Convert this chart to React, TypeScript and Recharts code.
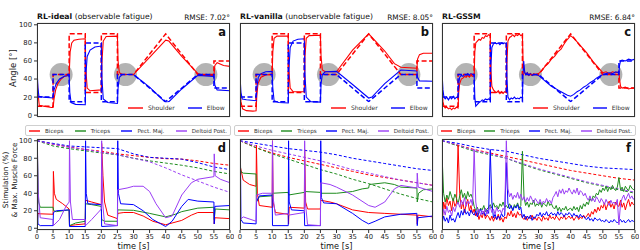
import React from 'react';
import { LineChart, Line, XAxis, YAxis, CartesianGrid, ReferenceDot } from 'recharts';

type Pt = [number, number];
type Row = { t: number; v: number };

// ---- axes ----
const timeTicks = [0, 5, 10, 15, 20, 25, 30, 35, 40, 45, 50, 55, 60];
const valueTicks = [0, 20, 40, 60, 80, 100];
const circleTimes = [7.5, 27.5, 52.5];
const circleAngle = 45;

// ---- joint angles (deg) ----
const shoulderRefAB: Pt[] = [[0, 10], [5, 10], [5, 45], [10, 45], [10, 90], [15, 90], [15, 25], [20, 25], [20, 90], [25, 90], [25, 45], [30, 45], [40, 90], [50, 45], [55, 45], [55, 60], [60, 60]];
const elbowRefAB: Pt[] = [[0, 20], [5, 20], [5, 45], [10, 45], [10, 15], [15, 15], [15, 80], [20, 80], [20, 15], [25, 15], [25, 45], [30, 45], [40, 15], [50, 45], [55, 45], [55, 30], [60, 30]];
const shoulderRefC: Pt[] = [[0, 10], [5, 10], [5, 45], [10, 45], [10, 90], [15, 90], [15, 25], [20, 25], [20, 90], [25, 90], [25, 45], [30, 45], [40, 90], [50, 45], [55, 45], [55, 30], [60, 30]];
const elbowRefC: Pt[] = [[0, 20], [5, 20], [5, 45], [10, 45], [10, 15], [15, 15], [15, 80], [20, 80], [20, 15], [25, 15], [25, 45], [30, 45], [40, 15], [50, 45], [55, 45], [55, 60], [60, 60]];

const shoulderA: Pt[] = [[0, 47], [0.3, 25], [0.7, 11], [2, 10], [4.5, 8.5], [5, 8.5], [5.3, 18], [5.8, 28], [6.5, 35], [7.5, 40], [8.5, 43], [10, 44.5], [10.3, 70], [10.8, 80], [11.5, 83], [13, 84], [15, 84.5], [15.2, 50], [15.6, 30], [16.5, 27], [20, 28], [20.2, 60], [20.6, 82], [21.5, 87], [25, 87.5], [25.2, 60], [25.6, 47], [26.5, 45], [30, 45], [35, 64], [40, 83], [41, 82], [45, 65], [50, 46], [52, 44], [55, 44], [55.3, 55], [56, 58], [58, 55], [60, 54]];
const elbowA: Pt[] = [[0, 52], [0.3, 30], [0.6, 21], [2, 20], [5, 19], [5.3, 28], [6, 35], [7, 40], [8.5, 43], [10, 44], [10.2, 25], [10.6, 14], [12, 12], [15, 11.5], [15.2, 45], [15.6, 65], [16.5, 72], [18, 75.5], [20, 76.5], [20.2, 40], [20.6, 18], [22, 14], [25, 13], [25.2, 30], [25.6, 42], [26.5, 45], [30, 45], [35, 31], [40, 14], [41, 15], [45, 29], [50, 44], [55, 43], [55.3, 33], [56, 28], [60, 27]];

const shoulderB: Pt[] = [[0, 40], [0.3, 15], [0.8, 7], [2, 5], [4, 4.5], [5, 5], [5.2, 20], [5.6, 35], [6.5, 42], [8, 44.5], [10, 45], [10.2, 70], [10.6, 85], [11.5, 87.5], [15, 87.5], [15.2, 50], [15.6, 30], [16.5, 26], [20, 26], [20.2, 65], [20.6, 85], [21.5, 88], [25, 88.5], [25.2, 65], [25.6, 50], [26.5, 48], [30, 48], [35, 72], [40, 90], [45, 71], [48, 57], [50, 53], [55, 52], [55.2, 62], [55.8, 67], [57, 68.5], [60, 68.5]];
const elbowB: Pt[] = [[0, 44], [0.3, 25], [0.7, 18], [2, 17], [5, 16], [5.2, 30], [5.7, 42], [6.5, 46], [8, 48], [10, 48.5], [10.2, 30], [10.6, 16], [12, 14], [15, 13.5], [15.2, 50], [15.6, 75], [16.5, 82], [18, 84], [20, 84.5], [20.2, 45], [20.6, 20], [22, 15], [25, 14.5], [25.2, 35], [25.6, 45], [26.5, 48], [30, 48.5], [35, 34], [40, 19], [41, 20], [45, 35], [50, 50], [55, 49], [55.2, 42], [55.8, 38], [60, 37.5]];

const shoulderC: Pt[] = [[0, 35], [0.3, 15], [0.6, 10], [1, 8], [1.5, 9], [2, 7], [2.5, 8], [3, 6], [3.5, 8], [4, 7], [4.5, 9], [5, 8], [5.2, 25], [5.5, 35], [6, 40], [6.5, 41], [7, 43], [7.5, 42], [8, 44], [8.5, 42], [9, 44], [9.5, 43], [10, 44], [10.2, 70], [10.5, 80], [11, 82], [11.5, 84], [12, 83], [12.5, 86], [13, 85], [13.5, 88], [14, 87], [14.5, 89], [15, 88], [15.2, 50], [15.5, 32], [16, 28], [16.5, 26], [17, 25], [17.5, 27], [18, 24], [18.5, 26], [19, 24], [19.5, 26], [20, 25], [20.2, 60], [20.5, 82], [21, 86], [21.5, 87], [22, 89], [22.5, 87], [23, 89], [23.5, 88], [24, 90], [24.5, 88], [25, 89], [25.2, 60], [25.5, 48], [26, 45], [26.5, 47], [27, 44], [27.5, 46], [28, 44], [28.5, 46], [29, 45], [30, 46], [31, 49], [32, 54], [33, 57], [34, 62], [35, 65], [36, 70], [37, 73], [38, 79], [39, 84], [40, 88], [41, 85], [42, 81], [43, 77], [44, 73], [45, 69], [46, 64], [47, 59], [48, 55], [49, 51], [50, 47], [51, 48], [52, 46], [53, 48], [54, 47], [55, 48], [55.2, 40], [55.5, 32], [56, 30], [57, 31], [58, 29], [59, 30], [60, 30]];
const elbowC: Pt[] = [[0, 48], [0.3, 28], [0.6, 20], [1, 18], [1.5, 20], [2, 17], [2.5, 20], [3, 18], [3.5, 21], [4, 18], [4.5, 20], [5, 19], [5.2, 35], [5.5, 42], [6, 44], [6.5, 43], [7, 45], [7.5, 44], [8, 46], [8.5, 44], [9, 46], [9.5, 45], [10, 45], [10.2, 20], [10.5, 10], [11, 12], [11.5, 14], [12, 15], [12.5, 17], [13, 16], [13.5, 18], [14, 17], [14.5, 18], [15, 17], [15.2, 55], [15.5, 75], [16, 79], [16.5, 80], [17, 79], [17.5, 80], [18, 78], [18.5, 80], [19, 79], [19.5, 80], [20, 79], [20.2, 40], [20.5, 20], [21, 17], [21.5, 19], [22, 18], [22.5, 20], [23, 18], [23.5, 19], [24, 18], [24.5, 20], [25, 19], [25.2, 45], [25.4, 60], [25.7, 48], [26, 45], [26.5, 47], [27, 44], [27.5, 46], [28, 44], [29, 45], [30, 44], [31, 41], [32, 38], [33, 35], [34, 32], [35, 30], [36, 28], [37, 26], [38, 24], [39, 22], [40, 21], [41, 23], [42, 26], [43, 28], [44, 31], [45, 33], [46, 36], [47, 38], [48, 41], [49, 43], [50, 45], [51, 46], [52, 47], [53, 46], [54, 48], [55, 47], [55.2, 55], [55.5, 60], [56, 61], [57, 60], [58, 62], [59, 61], [60, 62]];

// ---- muscle max force (%) ----
const bicepsForceD: Pt[] = [[0, 100], [5, 96], [10, 93], [15, 90], [20, 88], [25, 85], [30, 83], [35, 81], [40, 79.5], [45, 79], [50, 77], [55, 74], [60, 72]];
const tricepsForceD: Pt[] = [[0, 100], [5, 94], [10, 91], [15, 88.5], [20, 86], [25, 84], [30, 80], [35, 77], [40, 74.5], [45, 72], [50, 69], [55, 65], [60, 62]];
const pectForceD: Pt[] = [[0, 100], [5, 97], [10, 94], [15, 93], [20, 92], [25, 91], [30, 85], [35, 81], [40, 80], [45, 79], [50, 75], [55, 70], [60, 67]];
const deltForceD: Pt[] = [[0, 100], [5, 96], [10, 92.5], [15, 90], [20, 87], [25, 84], [30, 80], [35, 76], [40, 69], [45, 61], [50, 54], [55, 47], [60, 41]];

const bicepsForceE: Pt[] = [[0, 100], [5, 92], [10, 86], [15, 81], [20, 77], [25, 73], [30, 69], [35, 65], [40, 61], [45, 58], [50, 55], [55, 52], [60, 49]];
const tricepsForceE: Pt[] = [[0, 100], [5, 92], [10, 85], [15, 79], [20, 73], [25, 67], [30, 62], [35, 56], [40, 51], [45, 45], [50, 39], [55, 34], [60, 30]];
const pectForceE: Pt[] = [[0, 100], [5, 97], [10, 94], [15, 91], [20, 89], [25, 87], [30, 84], [35, 80], [40, 77], [45, 74], [50, 71], [55, 68], [60, 66]];
const deltForceE: Pt[] = [[0, 100], [5, 94], [10, 89], [15, 85], [20, 81], [25, 77], [30, 72], [35, 67], [40, 63], [45, 59], [50, 55], [55, 52], [60, 49]];

const bicepsForceF: Pt[] = [[0, 100], [5, 95], [10, 90], [15, 86], [20, 82], [25, 78], [30, 74], [35, 70], [40, 66], [45, 63], [50, 60], [55, 57], [60, 55]];
const tricepsForceF: Pt[] = [[0, 100], [5, 94], [10, 88], [15, 84], [20, 80], [25, 73], [30, 67], [35, 62], [40, 57], [45, 52], [50, 48], [55, 44], [60, 40]];
const pectForceF: Pt[] = [[0, 100], [5, 97], [10, 93], [15, 90], [20, 88], [25, 84], [30, 80], [35, 77], [40, 74], [45, 71], [50, 69], [55, 68], [60, 67]];
const deltForceF: Pt[] = [[0, 100], [5, 95], [10, 89], [15, 85], [20, 80], [25, 74], [30, 68], [35, 63], [40, 58], [45, 53], [50, 49], [55, 45], [60, 41]];

// ---- muscle stimulation (%) ----
const bicepsStimD: Pt[] = [[0, 2], [0.3, 17], [1, 16.5], [5, 16], [5.1, 65], [5.4, 40], [6, 33], [8, 28], [10, 22], [10.1, 3], [12, 4], [15, 5], [15.1, 32], [17, 30], [20, 27], [20.1, 97], [20.5, 60], [21, 30], [22, 15], [25, 11], [25.1, 17], [27, 18], [30, 18], [33, 14], [36, 8], [40, 4], [42, 6], [45, 9], [48, 15], [50, 18], [55, 18], [55.1, 5], [55.3, 12], [60, 11]];
const tricepsStimD: Pt[] = [[0, 0], [0.15, 85], [0.5, 30], [1, 24], [5, 24], [5.2, 20], [6, 19], [10, 21], [10.1, 3], [12, 6], [15, 8], [15.1, 28], [17, 27], [20, 25], [20.1, 10], [21, 8], [25, 8], [25.1, 21], [30, 20.5], [35, 17], [40, 13], [43, 16], [45, 19], [50, 23], [55, 24], [55.1, 10], [55.4, 22], [60, 21]];
const pectStimD: Pt[] = [[0, 0], [0.1, 50], [0.3, 5], [1, 3], [5, 3], [5.1, 18], [6, 20], [10, 21], [10.1, 2], [15, 2], [15.1, 100], [15.3, 40], [15.8, 28], [20, 27], [20.1, 2], [25, 3], [25.1, 100], [25.3, 40], [26, 28], [30, 27], [33, 20], [36, 10], [40, 2], [42, 8], [45, 25], [47, 33], [50, 31], [55, 30], [55.1, 5], [55.3, 25], [60, 26]];
const deltStimD: Pt[] = [[0, 0], [0.1, 100], [0.4, 40], [1, 12], [5, 10], [5.1, 3], [7, 10], [9, 25], [10, 30], [10.1, 100], [10.4, 30], [11, 10], [15, 10], [15.1, 3], [17, 10], [20, 22], [20.1, 100], [20.4, 30], [21, 5], [25, 3], [25.1, 44], [28, 46], [30, 48], [33, 48], [35, 42], [37, 28], [40, 12], [42, 14], [45, 38], [48, 52], [50, 56], [55, 59], [55.1, 85], [55.4, 60], [57, 56], [60, 52]];

const bicepsStimE: Pt[] = [[0, 72], [1, 55], [3, 50], [5, 48], [5.1, 95], [5.4, 40], [6, 26], [10, 24], [10.1, 100], [10.3, 30], [11, 18], [15, 16], [15.1, 5], [15.3, 24], [20, 23], [20.1, 90], [20.4, 30], [21, 22], [25, 22], [25.1, 32], [28, 30], [30, 28], [35, 21], [40, 18], [45, 17], [50, 16], [55, 15], [55.1, 5], [55.3, 15], [60, 13]];
const tricepsStimE: Pt[] = [[0, 100], [0.2, 65], [1, 63], [5, 62], [5.1, 30], [6, 36], [10, 37], [10.1, 40], [15, 41], [15.1, 38], [20, 41], [20.1, 42], [25, 41], [25.1, 40], [30, 40], [35, 42], [38, 45], [40, 46], [40.2, 50], [45, 52], [48, 50], [50, 47], [55, 46], [55.1, 30], [55.5, 40], [57, 44], [60, 45]];
const pectStimE: Pt[] = [[0, 0], [0.1, 100], [0.3, 10], [1, 6], [5, 5], [5.1, 30], [6, 37], [10, 38], [10.1, 3], [15, 3], [15.1, 100], [15.3, 30], [16, 21], [20, 20], [20.1, 3], [25, 3], [25.1, 100], [25.3, 35], [26, 29], [30, 28], [35, 17], [38, 9], [40, 5], [42, 8], [45, 13], [50, 16], [55, 17], [55.1, 3], [55.3, 12], [60, 14]];
const deltStimE: Pt[] = [[0, 0], [0.1, 10], [1, 13], [5, 8], [5.1, 38], [7, 40], [10, 40], [10.1, 100], [10.3, 35], [11, 15], [15, 17], [15.1, 15], [20, 18], [20.1, 100], [20.3, 30], [21, 4], [25, 3], [25.1, 52], [28, 50], [30, 47], [35, 38], [40, 26], [42, 24], [45, 30], [48, 45], [50, 49], [55, 46], [55.1, 63], [55.4, 47], [60, 42]];

// panel f is sampled every 0.5 s
const bicepsStimF = [2, 30, 22, 35, 26, 31, 20, 34, 25, 29, 95, 40, 22, 30, 18, 27, 33, 20, 26, 17, 22, 14, 18, 10, 16, 12, 19, 11, 15, 13, 9, 14, 8, 13, 10, 16, 9, 12, 7, 13, 11, 18, 14, 20, 13, 17, 12, 19, 15, 16, 12, 10, 14, 9, 13, 11, 15, 10, 12, 9, 13, 11, 8, 14, 10, 12, 9, 15, 11, 13, 10, 14, 12, 9, 13, 11, 15, 10, 12, 14, 11, 13, 9, 12, 14, 10, 13, 11, 15, 12, 14, 17, 13, 19, 16, 22, 18, 24, 20, 26, 23, 29, 21, 27, 31, 24, 28, 22, 30, 26, 25, 32, 24, 29, 21, 28, 33, 25, 30, 27, 28];
const tricepsStimF = [85, 40, 30, 38, 33, 42, 36, 31, 39, 34, 28, 37, 44, 35, 40, 33, 42, 36, 39, 34, 25, 20, 24, 18, 23, 21, 26, 19, 22, 24, 27, 23, 29, 24, 26, 22, 28, 25, 30, 24, 26, 23, 28, 25, 21, 27, 24, 29, 23, 26, 88, 35, 26, 30, 24, 29, 27, 32, 25, 28, 26, 30, 24, 29, 27, 25, 31, 26, 28, 24, 22, 26, 20, 24, 19, 23, 21, 25, 20, 22, 23, 20, 25, 21, 24, 19, 26, 22, 28, 25, 30, 27, 34, 31, 37, 35, 40, 38, 44, 41, 46, 43, 48, 42, 47, 44, 49, 45, 43, 47, 58, 44, 47, 42, 48, 45, 43, 49, 46, 44, 46];
const pectStimF = [5, 14, 8, 12, 6, 15, 9, 11, 7, 13, 18, 12, 20, 15, 22, 16, 19, 14, 21, 17, 15, 20, 13, 18, 22, 16, 19, 14, 21, 17, 90, 30, 12, 16, 10, 14, 11, 17, 13, 15, 75, 28, 22, 26, 20, 25, 23, 27, 21, 24, 12, 16, 10, 14, 11, 15, 9, 13, 12, 16, 14, 18, 13, 17, 15, 19, 14, 16, 18, 15, 17, 14, 19, 15, 18, 16, 13, 17, 15, 18, 16, 13, 17, 14, 15, 12, 16, 13, 14, 11, 10, 13, 9, 11, 8, 12, 10, 9, 11, 8, 9, 7, 10, 8, 6, 9, 7, 10, 8, 6, 8, 10, 7, 9, 6, 8, 10, 7, 9, 8, 7];
const deltStimF = [10, 22, 15, 25, 18, 21, 14, 24, 19, 26, 30, 24, 32, 27, 35, 25, 31, 28, 33, 26, 90, 30, 18, 22, 15, 20, 17, 23, 16, 21, 25, 18, 22, 16, 24, 19, 21, 17, 23, 20, 100, 45, 36, 40, 33, 38, 35, 41, 34, 39, 32, 36, 30, 35, 31, 37, 33, 29, 34, 31, 28, 33, 27, 31, 29, 34, 30, 32, 28, 35, 38, 42, 36, 44, 40, 45, 39, 43, 41, 46, 42, 39, 44, 40, 46, 38, 43, 41, 37, 40, 35, 32, 37, 31, 34, 30, 36, 33, 29, 34, 31, 27, 33, 29, 26, 32, 28, 30, 27, 33, 4, 28, 34, 38, 32, 36, 40, 34, 37, 33, 36];

// ---- styles ----
const RED = '#ff0000';
const GREEN = '#1e8c1e';
const BLUE = '#0000ff';
const PURPLE = '#9a3df5';
const FONT = '"DejaVu Sans", sans-serif';

const rows = (pts: Pt[]): Row[] => pts.map(([t, v]) => ({ t, v }));
const sampled = (vals: number[]): Row[] => vals.map((v, i) => ({ t: i * 0.5, v }));

type Series = { data: Row[]; color: string; dashed?: boolean };

const COLS = [37, 240, 442];
const PW = 193;
const Y_AXIS_W = 30;

function Panel({ col, top, h, series, yLabels, xLabels, circles }: {
  col: number; top: number; h: number; series: Series[]; yLabels: boolean; xLabels: boolean; circles?: boolean;
}) {
  const xh = xLabels ? 14 : 4;
  const tickStyle = { fontSize: 6.8, fill: '#222', fontFamily: FONT };
  const bottomRow = xLabels;
  const w = Y_AXIS_W + PW + 4;
  const ht = 4 + h + xh;
  const margin = { top: 4, right: 4, bottom: 0, left: 0 };
  const axes = (show: boolean) => [
    <XAxis key="x" type="number" dataKey="t" domain={[0, 60]} ticks={timeTicks} height={xh} interval={0}
      axisLine={false} tickSize={3} tickLine={show ? { stroke: '#333' } : false} tickMargin={1}
      tick={show && xLabels ? tickStyle : false} allowDataOverflow />,
    <YAxis key="y" type="number" domain={[-2, 102]} ticks={valueTicks} width={Y_AXIS_W} interval={0}
      axisLine={false} tickSize={3} tickLine={show ? { stroke: '#333' } : false} tickMargin={2}
      tick={show && yLabels ? tickStyle : false} allowDataOverflow />,
  ];
  return (
    <div style={{ position: 'absolute', left: col - Y_AXIS_W, top: top - 4, width: w, height: ht }}>
      {/* grid and highlight circles sit underneath the lines */}
      <div style={{ position: 'absolute', left: 0, top: 0 }}>
        <LineChart width={w} height={ht} margin={margin} data={[{ t: 0, v: 0 }]}>
          <CartesianGrid stroke="#d6d6d6" strokeWidth={0.8} />
          {axes(false)}
          {circles && circleTimes.map((t) => (
            <ReferenceDot key={t} x={t} y={circleAngle} r={11.5} fill="#a6a6a6" fillOpacity={0.85} stroke="none" />
          ))}
        </LineChart>
      </div>
      <div style={{ position: 'absolute', left: 0, top: 0 }}>
        <LineChart width={w} height={ht} margin={margin}>
          {axes(true)}
          {series.map((s, i) => (
            <Line key={i} data={s.data} dataKey="v" type="linear" stroke={s.color}
              strokeWidth={bottomRow ? 1 : (s.dashed ? 1.5 : 1.1)}
              strokeDasharray={s.dashed ? (bottomRow ? '3 2' : '5 2.5') : undefined}
              dot={false} activeDot={false} isAnimationActive={false} />
          ))}
        </LineChart>
      </div>
      <div style={{ position: 'absolute', left: Y_AXIS_W, top: 4, width: PW, height: h, border: '1px solid #333', boxSizing: 'border-box', pointerEvents: 'none' }} />
    </div>
  );
}

function angleSeries(sRef: Pt[], eRef: Pt[], s: Pt[], e: Pt[]): Series[] {
  return [
    { data: rows(s), color: RED },
    { data: rows(e), color: BLUE },
    { data: rows(sRef), color: RED, dashed: true },
    { data: rows(eRef), color: BLUE, dashed: true },
  ];
}

function muscleSeries(forces: Pt[][], stims: Row[][]): Series[] {
  const colors = [RED, GREEN, BLUE, PURPLE];
  return [
    ...forces.map((f, i) => ({ data: rows(f), color: colors[i], dashed: true })),
    ...stims.map((s, i) => ({ data: s, color: colors[i] })),
  ];
}

const titles = [
  { bold: 'RL-ideal', rest: ' (observable fatigue)', rmse: 'RMSE: 7.02°' },
  { bold: 'RL-vanilla', rest: ' (unobservable fatigue)', rmse: 'RMSE: 8.05°' },
  { bold: 'RL-GSSM', rest: '', rmse: 'RMSE: 6.84°' },
];
const muscleNames = ['Biceps', 'Triceps', 'Pect. Maj.', 'Deltoid Post.'];
const muscleColors = [RED, GREEN, BLUE, PURPLE];
const legendBoxes = [[25, 206], [234, 199], [437, 199]];

function Swatch({ color, width }: { color: string; width: number }) {
  return (
    <svg width={width} height={4} style={{ marginRight: 5, flexShrink: 0, display: 'block' }}>
      <line x1={0} y1={2} x2={width} y2={2} stroke={color} strokeWidth={1.4} />
    </svg>
  );
}

export default function App() {
  const topSeries = [
    angleSeries(shoulderRefAB, elbowRefAB, shoulderA, elbowA),
    angleSeries(shoulderRefAB, elbowRefAB, shoulderB, elbowB),
    angleSeries(shoulderRefC, elbowRefC, shoulderC, elbowC),
  ];
  const bottomSeries = [
    muscleSeries([bicepsForceD, tricepsForceD, pectForceD, deltForceD], [rows(bicepsStimD), rows(tricepsStimD), rows(pectStimD), rows(deltStimD)]),
    muscleSeries([bicepsForceE, tricepsForceE, pectForceE, deltForceE], [rows(bicepsStimE), rows(tricepsStimE), rows(pectStimE), rows(deltStimE)]),
    muscleSeries([bicepsForceF, tricepsForceF, pectForceF, deltForceF], [sampled(bicepsStimF), sampled(tricepsStimF), sampled(pectStimF), sampled(deltStimF)]),
  ];
  const letters = [['a', 'b', 'c'], ['d', 'e', 'f']];

  return (
    <div style={{ position: 'absolute', left: 0, top: 0, width: 640, height: 250, background: '#fff', fontFamily: FONT, color: '#111', overflow: 'hidden' }}>
      {COLS.map((col, i) => (
        <React.Fragment key={i}>
          <Panel col={col} top={23} h={94} series={topSeries[i]} yLabels={i === 0} xLabels={false} circles />
          <Panel col={col} top={139} h={91} series={bottomSeries[i]} yLabels={i === 0} xLabels />
        </React.Fragment>
      ))}
      {COLS.map((col, i) => (
        <React.Fragment key={i}>
          {/* titles */}
          <div style={{ position: 'absolute', left: col, top: 12, fontSize: 7.7, lineHeight: '10px', whiteSpace: 'nowrap' }}>
            <b>{titles[i].bold}</b>{titles[i].rest}
          </div>
          <div style={{ position: 'absolute', left: col, width: PW, top: 12.5, fontSize: 7.4, lineHeight: '10px', textAlign: 'right', whiteSpace: 'nowrap' }}>
            {titles[i].rmse}
          </div>

          {/* panel letters */}
          <div style={{ position: 'absolute', left: col, width: PW - 4, top: 26, fontSize: 11.5, fontWeight: 'bold', lineHeight: '12px', textAlign: 'right' }}>{letters[0][i]}</div>
          <div style={{ position: 'absolute', left: col, width: PW - 4, top: 142, fontSize: 11.5, fontWeight: 'bold', lineHeight: '12px', textAlign: 'right' }}>{letters[1][i]}</div>

          {/* angle legend */}
          <div style={{ position: 'absolute', left: col + 88, top: 102, width: 102, height: 11, background: 'rgba(255,255,255,0.75)', fontSize: 6, color: '#333', whiteSpace: 'nowrap', display: 'flex', alignItems: 'center' }}>
            <span style={{ marginLeft: 3, display: 'flex', alignItems: 'center' }}><Swatch color={RED} width={15} />Shoulder</span>
            <span style={{ marginLeft: 13, display: 'flex', alignItems: 'center' }}><Swatch color={BLUE} width={14} />Elbow</span>
          </div>

          {/* muscle legend */}
          <div style={{ position: 'absolute', left: legendBoxes[i][0], width: legendBoxes[i][1], top: 125, height: 11, boxSizing: 'border-box', border: '0.8px solid #cfcfcf', borderRadius: 2, background: '#fff', display: 'flex', justifyContent: 'space-between', alignItems: 'center', padding: '0 3px', fontSize: 5.6, color: '#333', whiteSpace: 'nowrap' }}>
            {muscleNames.map((m, j) => (
              <span key={m} style={{ display: 'flex', alignItems: 'center' }}>
                <Swatch color={muscleColors[j]} width={11} />
                {m}
              </span>
            ))}
          </div>

          {/* x label */}
          <div style={{ position: 'absolute', left: col, width: PW, top: 240.5, fontSize: 8.2, lineHeight: '10px', textAlign: 'center' }}>time [s]</div>
        </React.Fragment>
      ))}

      {/* y labels */}
      <div style={{ position: 'absolute', left: 13, top: 68, transform: 'translate(-50%, -50%) rotate(-90deg)', fontSize: 8.5, whiteSpace: 'nowrap', lineHeight: '10px' }}>Angle [°]</div>
      <div style={{ position: 'absolute', left: 10, top: 180, transform: 'translate(-50%, -50%) rotate(-90deg)', fontSize: 7.3, whiteSpace: 'nowrap', lineHeight: '9px', textAlign: 'center' }}>
        Stimulation (%)<br />&amp; Max. Muscle Force
      </div>
    </div>
  );
}
